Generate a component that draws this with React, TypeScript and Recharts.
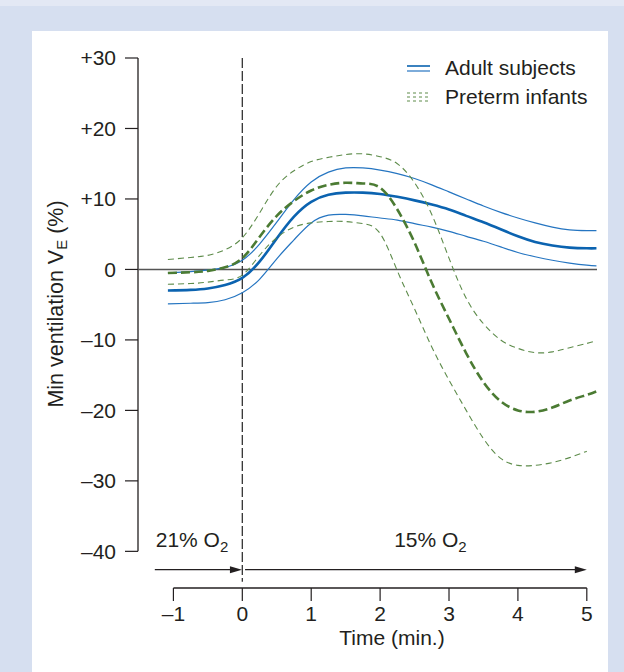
import React from "react";
import {
  LineChart,
  Line,
  XAxis,
  YAxis,
  ReferenceLine,
  ReferenceDot,
  Legend,
} from "recharts";

const FONT = '"Liberation Sans", Arial, Helvetica, sans-serif';
const INK = "#231f20";

// time in minutes, 0 = switch from 21% to 15% O2
const time = [-1.08, -0.75, -0.5, -0.25, 0, 0.25, 0.5, 0.75, 1, 1.25, 1.5, 1.75, 2, 2.25, 2.5, 2.75, 3, 3.25, 3.5, 3.75, 4, 4.25, 4.5, 4.75, 5, 5.14];

const adultMean = [-3.0, -2.9, -2.7, -2.2, -1.2, 1.1, 4.4, 7.5, 9.6, 10.6, 10.9, 10.9, 10.7, 10.3, 9.8, 9.2, 8.5, 7.6, 6.7, 5.7, 4.7, 3.9, 3.4, 3.1, 3.0, 3.0];
const adultUpper = [-0.5, -0.3, -0.1, 0.3, 1.3, 3.6, 6.7, 9.9, 12.4, 13.8, 14.4, 14.4, 14.1, 13.6, 12.9, 12.0, 11.0, 10.0, 9.0, 8.1, 7.3, 6.6, 6.0, 5.6, 5.5, 5.5];
const adultLower = [-4.9, -4.8, -4.7, -4.3, -3.3, -1.4, 1.5, 4.2, 6.6, 7.7, 7.8, 7.6, 7.3, 7.0, 6.5, 6.0, 5.4, 4.7, 4.0, 3.2, 2.4, 1.8, 1.3, 0.9, 0.6, 0.5];

const pretermMean = [-0.5, -0.4, -0.2, 0.3, 1.6, 4.6, 7.6, 9.7, 11.2, 12.0, 12.3, 12.2, 11.6, 8.5, 3.8, -1.9, -7.0, -11.9, -16.0, -18.7, -20.0, -20.2, -19.6, -18.6, -17.8, -17.3];
const pretermUpper = [1.4, 1.7, 2.0, 2.8, 4.5, 8.0, 11.8, 14.0, 15.3, 15.9, 16.3, 16.4, 16.0, 15.0, 12.3, 7.8, 1.6, -4.1, -7.7, -10.0, -11.2, -11.8, -11.7, -11.1, -10.5, -10.1];
const pretermLower = [-2.1, -2.0, -1.8, -1.5, -0.8, 2.0, 4.5, 6.0, 6.6, 6.8, 6.8, 6.5, 5.1, -0.2, -5.6, -11.0, -15.7, -20.0, -24.0, -26.8, -27.8, -27.8, -27.4, -26.7, -25.8, null];

const xTicks = [-1, 0, 1, 2, 3, 4, 5];
const yTicks = [30, 20, 10, 0, -10, -20, -30, -40];

const X_MIN = -1.514;
const X_MAX = 5.148;
const Y_MIN = -45.2;
const Y_MAX = 30;
const ARROW_Y = -42.6;

const data = time.map((t, i) => ({
  t,
  adultMean: adultMean[i],
  adultUpper: adultUpper[i],
  adultLower: adultLower[i],
  pretermMean: pretermMean[i],
  pretermUpper: pretermUpper[i],
  pretermLower: pretermLower[i],
}));

const BLUE = "#0b63b0";
const BLUE_THIN = "#2575c1";
const GREEN = "#4b7b33";
const GREEN_THIN = "#5e8c4b";

const fmtSigned = (v: number) => (v > 0 ? `+${v}` : v < 0 ? `\u2013${Math.abs(v)}` : "0");
const fmtMinus = (v: number) => (v < 0 ? `\u2013${Math.abs(v)}` : `${v}`);

// line with filled arrow head at the end
const Arrow = (props: any) => {
  const { x1, y1, x2, y2 } = props;
  return (
    <g>
      <line x1={x1} y1={y1} x2={x2 - 10} y2={y2} stroke={INK} strokeWidth={1.3} />
      <path d={`M${x2},${y2} L${x2 - 12},${y2 - 3.5} L${x2 - 12},${y2 + 3.5} Z`} fill={INK} />
    </g>
  );
};

const gasLabel = (pct: string) => (p: any) => (
  <text x={p.cx} y={p.cy} textAnchor="middle" fontSize={21} fontFamily={FONT} fill={INK}>
    <tspan>{pct} O</tspan>
    <tspan fontSize={15} dy={5}>2</tspan>
  </text>
);

const LegendBox = () => (
  <svg width={210} height={60} style={{ display: "block" }}>
    <line x1={7} y1={16} x2={30} y2={16} stroke={BLUE} strokeWidth={1.6} />
    <line x1={7} y1={21} x2={30} y2={21} stroke={BLUE_THIN} strokeWidth={1.2} />
    <text x={45} y={24.5} fontSize={21} fontFamily={FONT} fill={INK}>Adult subjects</text>
    {[43, 47, 51].map((y) => (
      <line key={y} x1={7} y1={y} x2={30} y2={y} stroke={GREEN_THIN} strokeWidth={1.2} strokeDasharray="3 3" />
    ))}
    <text x={45} y={53.5} fontSize={21} fontFamily={FONT} fill={INK}>Preterm infants</text>
  </svg>
);

export default function App() {
  return (
    <div style={{ position: "absolute", left: 0, top: 0, width: 624, height: 672, background: "#d6dff0" }}>
      <div style={{ position: "absolute", left: 0, top: 0, width: 624, height: 6, background: "#e3e8f4" }} />
      <div style={{ position: "absolute", left: 32, top: 31, width: 576, height: 641, background: "#ffffff" }} />
      <div style={{ position: "absolute", left: 0, top: 0 }}>
        <LineChart width={624} height={672} data={data} margin={{ top: 58, right: 27, bottom: 24, left: 38 }}>
          <XAxis
            type="number"
            dataKey="t"
            domain={[X_MIN, X_MAX]}
            ticks={xTicks}
            tickFormatter={fmtMinus}
            height={60}
            axisLine={false}
            tickSize={13}
            tickMargin={5}
            tickLine={{ stroke: INK, strokeWidth: 1.2 }}
            tick={{ fill: INK, fontSize: 21, fontFamily: FONT }}
            allowDataOverflow
            label={{
              content: ({ viewBox }: any) => (
                <text x={viewBox.x + 254} y={viewBox.y + 57} textAnchor="middle" fontSize={21} fontFamily={FONT} fill={INK}>
                  Time (min.)
                </text>
              ),
            }}
          />
          <YAxis
            type="number"
            domain={[Y_MIN, Y_MAX]}
            ticks={yTicks}
            tickFormatter={fmtSigned}
            width={100}
            axisLine={false}
            tickSize={13}
            tickMargin={9}
            tickLine={{ stroke: INK, strokeWidth: 1.2 }}
            tick={{ fill: INK, fontSize: 21, fontFamily: FONT }}
            allowDataOverflow
            label={{
              content: () => (
                <text x={63} y={304} transform="rotate(-90, 63, 304)" textAnchor="middle" fontSize={21.5} fontFamily={FONT} fill={INK}>
                  <tspan>Min ventilation V</tspan>
                  <tspan fontSize={15} dy={4}>E</tspan>
                  <tspan dy={-4}> (%)</tspan>
                </text>
              ),
            }}
          />
          <Legend
            layout="horizontal"
            verticalAlign="middle"
            align="center"
            content={() => <LegendBox />}
            wrapperStyle={{ position: "absolute", left: 400, top: 50, width: 210, height: 60 }}
          />

          {/* axis lines drawn as segments so they stop at -40 and at 5 */}
          <ReferenceLine segment={[{ x: X_MIN, y: Y_MAX }, { x: X_MIN, y: -40 }]} stroke={INK} strokeWidth={1.3} ifOverflow="visible" />
          <ReferenceLine segment={[{ x: -1, y: Y_MIN }, { x: 5, y: Y_MIN }]} stroke={INK} strokeWidth={1.3} ifOverflow="visible" />
          <ReferenceLine y={0} stroke="#555" strokeWidth={1.6} />
          <ReferenceLine segment={[{ x: 0, y: Y_MAX }, { x: 0, y: -44.3 }]} stroke="#333" strokeWidth={1.3} strokeDasharray="10 3" ifOverflow="visible" />

          <ReferenceLine segment={[{ x: -1.27, y: ARROW_Y }, { x: -0.005, y: ARROW_Y }]} shape={Arrow} ifOverflow="visible" />
          <ReferenceLine segment={[{ x: 0.04, y: ARROW_Y }, { x: 5.0, y: ARROW_Y }]} shape={Arrow} ifOverflow="visible" />
          <ReferenceDot x={-0.73} y={-39.4} r={0} shape={gasLabel("21%")} ifOverflow="visible" />
          <ReferenceDot x={2.73} y={-39.4} r={0} shape={gasLabel("15%")} ifOverflow="visible" />

          <Line type="natural" dataKey="adultUpper" stroke={BLUE_THIN} strokeWidth={1.2} dot={false} isAnimationActive={false} />
          <Line type="natural" dataKey="adultLower" stroke={BLUE_THIN} strokeWidth={1.2} dot={false} isAnimationActive={false} />
          <Line type="natural" dataKey="adultMean" stroke={BLUE} strokeWidth={2.6} dot={false} isAnimationActive={false} />
          <Line type="natural" dataKey="pretermUpper" stroke={GREEN_THIN} strokeWidth={1.1} strokeDasharray="6 4" dot={false} isAnimationActive={false} />
          <Line type="natural" dataKey="pretermLower" stroke={GREEN_THIN} strokeWidth={1.1} strokeDasharray="6 4" dot={false} isAnimationActive={false} />
          <Line type="natural" dataKey="pretermMean" stroke={GREEN} strokeWidth={2.6} strokeDasharray="9 4" dot={false} isAnimationActive={false} />
        </LineChart>
      </div>
    </div>
  );
}
